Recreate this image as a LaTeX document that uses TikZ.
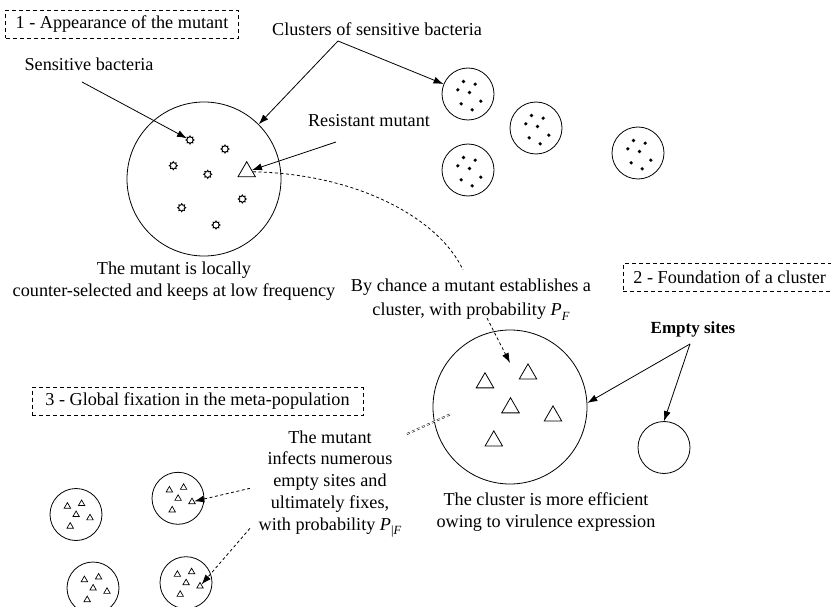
\documentclass[tikz,border=0pt]{standalone}
\usepackage{fontspec}
\setmainfont{Liberation Serif}
\usetikzlibrary{arrows.meta,shapes.geometric,calc}
\newcommand\PSub[1]{\textit{P}\raisebox{-0.55ex}{\fontsize{12.5}{12.5}\selectfont #1}}
\begin{document}
\begin{tikzpicture}[x=1pt,y=-1pt,
  font=\fontsize{18.2}{22}\selectfont, line width=0.8pt,
  site/.style={circle,draw,inner sep=0pt,minimum size=52},
  bigsite/.style={circle,draw,inner sep=0pt,minimum size=154},
  labelbox/.style={draw,dash pattern=on 4pt off 3pt,inner xsep=10pt,inner ysep=0pt,minimum height=28},
  txt/.style={inner sep=0pt,align=center},
  bact/.style={star,star points=8,star point ratio=1.5,draw,inner sep=0pt,minimum size=8,line width=0.9pt},
  mut/.style={regular polygon,regular polygon sides=3,draw,inner sep=0pt,minimum size=20.2,line width=0.8pt},
  smut/.style={regular polygon,regular polygon sides=3,draw,inner sep=0pt,minimum size=7.4,line width=0.7pt},
  arr/.style={-{Latex[length=10pt,width=7pt]}},
  dotline/.style={dash pattern=on 3pt off 2.5pt},
]
\path[fill=white] (0,0) rectangle (831,607);
\useasboundingbox (0,0) rectangle (831,607);

% stage boxes
\node[labelbox, minimum width=230] (box1) at (122,24.5) {1 - Appearance of the mutant};
\node[labelbox, anchor=west] (box2) at (623,277.5) {2 - Foundation of a cluster};
\node[labelbox, minimum width=331] (box3) at (197.5,401.5) {3 - Global fixation in the meta-population};

% sites
\node[bigsite] (C1) at (204,179) {};
\node[bigsite] (C2) at (510,407) {};
\node[site] (E) at (664,447.5) {};
\node[site] (k1) at (468,94) {};
\node[site] (k2) at (536,128) {};
\node[site] (k3) at (468,170) {};
\node[site] (k4) at (638,153) {};
\node[site] (m1) at (76,514.5) {};
\node[site] (m2) at (178,498.3) {};
\node[site] (m3) at (93,588) {};
\node[site] (m4) at (186,582.7) {};

% sensitive bacteria in the first site
\foreach \x/\y [count=\i] in {190/140, 225/149, 173.3/165.7, 207.7/174.3, 242.3/199, 181.7/207.7, 216/225}
  \node[bact] (s\i) at (\x,\y) {};

% mutants
\node[mut] (R) at (246.7,171.8) {};
\node[mut] (T1) at (485,382.8) {};
\node[mut] (T2) at (528,374) {};
\node[mut] (T3) at (510.5,407.8) {};
\node[mut] (T4) at (553,416) {};
\node[mut] (T5) at (493.8,441) {};

\foreach \c in {m1,m2,m3,m4}{
  \foreach \dx/\dy [count=\i] in {-8.6/-8.2, 5.6/-10.8, 0.1/0.2, 14/3.5, -5.8/11.8}
    \node[smut] (\c-\i) at ($(\c)+(\dx,\dy)$) {};
}

% clusters of sensitive bacteria
\foreach \c in {k1,k2,k3,k4}{
  \foreach \dx/\dy in {-4.5/-12.5, 7.2/-9.8, -10.2/-4.2, 1.5/-1.5, 12.8/7.2, -6.8/9.8, 4.2/15.8}
    \fill ($(\c)+(\dx,\dy)$) circle (1.8);
}

% texts
\node[txt, anchor=base] (tclu) at (377,36) {Clusters of sensitive bacteria};
\node[txt, anchor=base] (tsens) at (89,71) {Sensitive bacteria};
\node[txt, anchor=base] (tres) at (369,126.5) {Resistant mutant};
\node[txt] (tloc) at (174,281.5) {The mutant is locally\\counter-selected and keeps at low frequency};
\node[txt, font=\fontsize{18.2}{24.5}\selectfont] (tchance) at (471,299.5) {By chance a mutant establishes a\\cluster, with probability \PSub{\textit{F}}};
\node[txt, anchor=base, font=\bfseries\fontsize{17}{20}\selectfont] (tempty) at (693,333.5) {Empty sites};
\node[txt, font=\fontsize{18.2}{21.7}\selectfont] (tinf) at (330,484) {The mutant\\infects numerous\\empty sites and\\ultimately fixes,\\with probability \PSub{|\textit{F}}};
\node[txt] (teff) at (546,512.5) {The cluster is more efficient\\owing to virulence expression};

% connectors
\coordinate (sb) at (82,82);
\draw[arr] (sb) -- (s1);
\coordinate (cl) at (338,41);
\draw[arr] (cl) -- (C1.45);
\draw[arr] (cl) -- (k1);
\coordinate (rm) at (336,142);
\draw[arr] (rm) -- (R);
\coordinate (es) at (690,344);
\draw[arr] (es) -- (C2.3);
\draw[arr] (es) -- (E.north);

\coordinate (cv) at (463,270);
\draw[dotline] (R.east) .. controls (360,174) and (440,220) .. (cv);
\coordinate (pcs) at (487,318);
\coordinate (pce) at (510,363);
\draw[dotline,arr] (pcs) -- (pce);

\coordinate (st1) at (407,434);
\coordinate (st2) at (451,414);
\draw[dotline,double,double distance=0.8pt,line width=0.5pt] (st1) -- (st2);

\coordinate (a1) at (250,488.3);
\coordinate (a2) at (250,528.3);
\draw[dotline,arr] (a1) -- (m2-4);
\draw[dotline,arr] (a2) -- (m4-4);
\end{tikzpicture}
\end{document}
